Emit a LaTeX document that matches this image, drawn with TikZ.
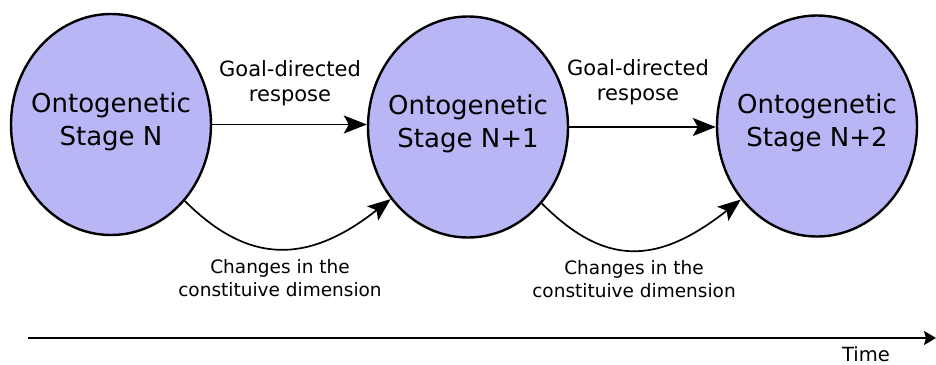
\documentclass[tikz,border=0pt]{standalone}
\usepackage{fontspec}
\setmainfont{DejaVu Sans}
\usetikzlibrary{shapes.geometric,arrows.meta}
\definecolor{stagefill}{HTML}{B8B6F4}
\tikzset{
  stage/.style={ellipse, draw=black, line width=2.4pt, fill=stagefill,
    minimum width=200pt, minimum height=221pt, inner sep=0pt},
  stagetext/.style={align=center, font=\fontsize{26}{33}\selectfont},
  flow/.style={line width=1.7pt, -{Stealth[length=23pt,width=18pt,inset=5pt]}},
  toplabel/.style={align=center, font=\fontsize{21}{24.5}\selectfont},
  botlabel/.style={align=center, font=\fontsize{18.5}{23}\selectfont},
}
\begin{document}
\begin{tikzpicture}[x=1pt, y=-1pt]
  \useasboundingbox (0,0) rectangle (936,364);

  % the three stages
  \node[stage, label={[stagetext, yshift=3pt]center:Ontogenetic\\Stage N}] (s0) at (111,124.5) {};
  \node[stage, label={[stagetext, yshift=3pt]center:Ontogenetic\\Stage N+1}] (s1) at (468,127) {};
  \node[stage, label={[stagetext, yshift=3pt]center:Ontogenetic\\Stage N+2}] (s2) at (817,126) {};

  % goal-directed responses
  \draw[flow] (s0.east) -- (s0.east -| s1.west);
  \draw[flow] (s1.east) -- (s1.east -| s2.west);
  \node[toplabel] (g0) at (290,83) {Goal-directed\\respose};
  \node[toplabel] (g1) at (638,82) {Goal-directed\\respose};

  % constitutive changes
  \draw[flow] (s0.-46) .. controls +(62,62) and +(-85,67) .. (s1.-137);
  \draw[flow] (s1.-46) .. controls +(62,62) and +(-85,67) .. (s2.-136);
  \node[botlabel] (c0) at (280,278) {Changes in the\\constituive dimension};
  \node[botlabel] (c1) at (634,279) {Changes in the\\constituive dimension};

  % time axis
  \coordinate (t0) at (28,338);
  \coordinate (t1) at (936,338);
  \draw[line width=1.7pt, -{Stealth[length=12pt,width=14pt,inset=2pt]}] (t0) -- (t1);
  \node[font=\fontsize{19.5}{23}\selectfont, anchor=base] (time) at (866,361) {Time};
\end{tikzpicture}
\end{document}
